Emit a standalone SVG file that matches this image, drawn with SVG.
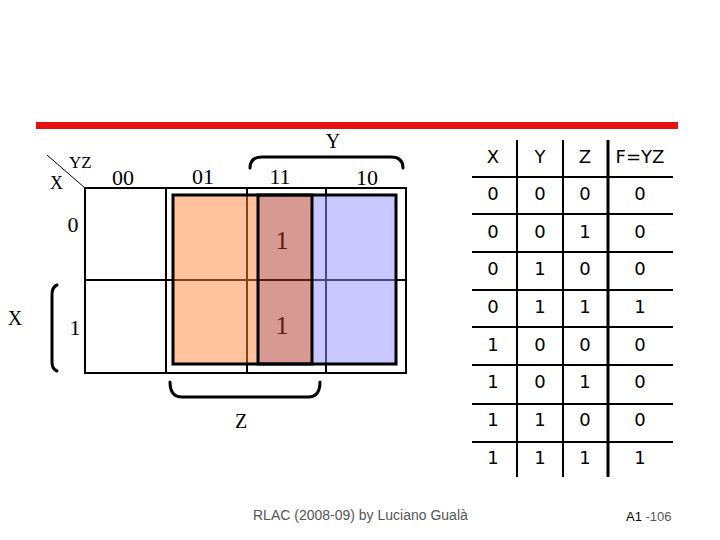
<svg xmlns="http://www.w3.org/2000/svg" width="720" height="540" viewBox="0 0 720 540">
<style>
.s{font-family:"Liberation Serif","Times New Roman",serif;fill:#000}
.t{font-family:"DejaVu Sans",Verdana,sans-serif;font-size:18px;fill:#000;text-anchor:middle}
.g{stroke:#000;stroke-width:2;fill:none}
.b{stroke:#000;stroke-width:3;fill:none;stroke-linecap:round}
.f{font-family:"Liberation Sans",Arial,sans-serif;fill:#555}
</style>
<rect width="720" height="540" fill="#fff"/>
<rect x="36" y="122" width="642" height="7" fill="#e51010"/>
<g id="kmap">
<line x1="47" y1="155" x2="85" y2="188" stroke="#000" stroke-width="1"/>
<text class="s" x="69" y="168" font-size="17">YZ</text>
<text class="s" x="50" y="189" font-size="18">X</text>
<text class="s" x="123" y="185" font-size="22" text-anchor="middle">00</text>
<text class="s" x="203" y="184" font-size="22" text-anchor="middle">01</text>
<text class="s" x="280" y="184" font-size="22" text-anchor="middle">11</text>
<text class="s" x="367" y="185" font-size="22" text-anchor="middle">10</text>
<text class="s" x="73" y="232" font-size="22" text-anchor="middle">0</text>
<text class="s" x="75" y="335" font-size="22" text-anchor="middle">1</text>
<rect x="85" y="188" width="321" height="185" class="g"/>
<line x1="166" y1="188" x2="166" y2="373" class="g"/>
<line x1="247" y1="188" x2="247" y2="373" class="g"/>
<line x1="326" y1="188" x2="326" y2="373" class="g"/>
<line x1="85" y1="280" x2="406" y2="280" class="g"/>
<text class="s" x="282" y="249" font-size="26" text-anchor="middle">1</text>
<text class="s" x="282" y="334" font-size="26" text-anchor="middle">1</text>
</g>
<g id="groups">
<rect x="173" y="195" width="85" height="169" fill="rgb(255,134,60)" fill-opacity="0.5"/>
<rect x="258" y="195" width="54" height="169" fill="rgb(178,52,40)" fill-opacity="0.5"/>
<rect x="312" y="195" width="84" height="169" fill="rgb(145,145,255)" fill-opacity="0.5"/>
<rect x="258" y="195" width="138" height="169" fill="none" stroke="#000" stroke-width="3"/>
<rect x="173" y="195" width="139" height="169" fill="none" stroke="#000" stroke-width="3"/>
</g>
<g id="braces">
<path class="b" d="M250,168 Q250,157 262,157 L391,157 Q403,157 403,168"/>
<text class="s" x="333" y="148" font-size="20" text-anchor="middle">Y</text>
<path class="b" d="M57,285 Q52,287 52,295 L52,362 Q52,369 57,371"/>
<text class="s" x="15" y="325" font-size="20" text-anchor="middle">X</text>
<path class="b" d="M170,382 Q170,397 182,397 L308,397 Q320,397 320,382"/>
<text class="s" x="241" y="428" font-size="20" text-anchor="middle">Z</text>
</g>
<g id="table">
<g stroke="#000" stroke-width="2">
<line x1="517" y1="140" x2="517" y2="477"/>
<line x1="563" y1="140" x2="563" y2="477"/>
<line x1="608" y1="140" x2="608" y2="477" stroke-width="3"/>
<line x1="472" y1="177" x2="673" y2="177"/>
<line x1="472" y1="214" x2="673" y2="214"/>
<line x1="472" y1="252" x2="673" y2="252"/>
<line x1="472" y1="290" x2="673" y2="290"/>
<line x1="472" y1="327" x2="673" y2="327"/>
<line x1="472" y1="365" x2="673" y2="365"/>
<line x1="472" y1="404" x2="673" y2="404"/>
<line x1="472" y1="442" x2="673" y2="442"/>
</g>
<text class="t" x="493" y="163">X</text><text class="t" x="540" y="163">Y</text><text class="t" x="585" y="163">Z</text><text class="t" x="640" y="163">F=YZ</text>
<text class="t" x="493" y="200">0</text><text class="t" x="540" y="200">0</text><text class="t" x="585" y="200">0</text><text class="t" x="640" y="200">0</text>
<text class="t" x="493" y="238">0</text><text class="t" x="540" y="238">0</text><text class="t" x="585" y="238">1</text><text class="t" x="640" y="238">0</text>
<text class="t" x="493" y="275">0</text><text class="t" x="540" y="275">1</text><text class="t" x="585" y="275">0</text><text class="t" x="640" y="275">0</text>
<text class="t" x="493" y="313">0</text><text class="t" x="540" y="313">1</text><text class="t" x="585" y="313">1</text><text class="t" x="640" y="313">1</text>
<text class="t" x="493" y="351">1</text><text class="t" x="540" y="351">0</text><text class="t" x="585" y="351">0</text><text class="t" x="640" y="351">0</text>
<text class="t" x="493" y="388">1</text><text class="t" x="540" y="388">0</text><text class="t" x="585" y="388">1</text><text class="t" x="640" y="388">0</text>
<text class="t" x="493" y="426">1</text><text class="t" x="540" y="426">1</text><text class="t" x="585" y="426">0</text><text class="t" x="640" y="426">0</text>
<text class="t" x="493" y="464">1</text><text class="t" x="540" y="464">1</text><text class="t" x="585" y="464">1</text><text class="t" x="640" y="464">1</text>
</g>
<g id="footer">
<text class="f" x="253" y="520" font-size="14">RLAC (2008-09) by Luciano Gualà</text>
<text class="f" x="626" y="521" font-size="13"><tspan fill="#000">A1</tspan> -106</text>
</g>
</svg>
